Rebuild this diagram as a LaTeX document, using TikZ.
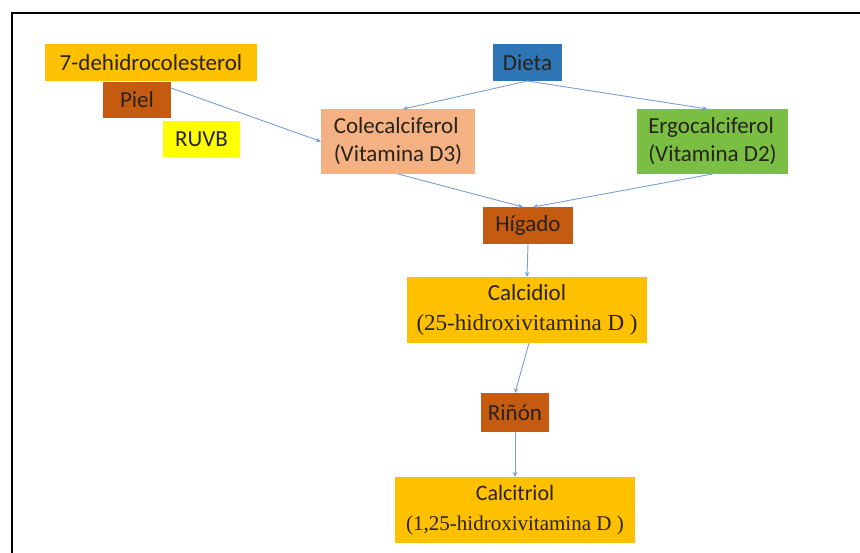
\documentclass[tikz,border=0pt]{standalone}
\usepackage{fontspec}
\setmainfont{Carlito}
\newfontfamily\serifb{Liberation Serif}
\usetikzlibrary{arrows.meta}
\definecolor{cgold}{RGB}{255,192,0}
\definecolor{cbrown}{RGB}{197,90,17}
\definecolor{cyel}{RGB}{255,255,0}
\definecolor{cpeach}{RGB}{244,177,131}
\definecolor{cblue}{RGB}{46,117,182}
\definecolor{cgreen}{RGB}{122,190,68}
\definecolor{carrow}{RGB}{120,160,215}
\definecolor{ctext}{RGB}{40,35,25}
\begin{document}
\begin{tikzpicture}[x=1pt,y=-1pt,
  boxstyle/.style={inner sep=0pt,outer sep=0pt,text=ctext,font=\fontsize{23}{28}\selectfont,align=center},
  conn/.style={draw=carrow,line width=0.9pt,-{Stealth[length=5pt,width=4.5pt]}}]
\useasboundingbox (0,0) rectangle (860,553);
\fill[white] (0,0) rectangle (860,553);
\draw[line width=2pt,black] (11.5,553) -- (11.5,13) -- (860,13);
\node[boxstyle,fill=cgold,minimum width=212pt,minimum height=37pt] (dehidro) at (151,62.5) {7-dehidrocolesterol};
\node[boxstyle,fill=cbrown,minimum width=68pt,minimum height=36pt] (piel) at (137,100) {Piel};
\node[boxstyle,fill=cyel,minimum width=77pt,minimum height=36pt] (ruvb) at (201.5,139) {RUVB};
\node[boxstyle,fill=cpeach,minimum width=154pt,minimum height=65pt,align=left] (cole) at (398,141.5) {Colecalciferol\\(Vitamina D3)};
\node[boxstyle,fill=cblue,minimum width=69pt,minimum height=37pt] (dieta) at (527.5,62.5) {Dieta};
\node[boxstyle,fill=cgreen,minimum width=151pt,minimum height=65pt,align=left] (ergo) at (712.5,141.5) {Ergocalciferol\\(Vitamina D2)};
\node[boxstyle,fill=cbrown,minimum width=90pt,minimum height=37pt] (higado) at (528,225.5) {Hígado};
\node[boxstyle,fill=cgold,minimum width=240pt,minimum height=66pt,font=\fontsize{23}{30}\selectfont] (calcidiol) at (527,310) {Calcidiol\\{\serifb (25-hidroxivitamina D )}};
\node[boxstyle,fill=cbrown,minimum width=68pt,minimum height=39pt] (rinon) at (515,412.5) {Riñón};
\node[boxstyle,fill=cgold,minimum width=240pt,minimum height=66pt,font=\fontsize{22}{30}\selectfont] (calcitriol) at (515,510) {Calcitriol\\{\serifb\fontsize{21}{30}\selectfont (1,25-hidroxivitamina D )}};
\draw[conn] ([yshift=12pt]piel.east) -- (cole.west);
\draw[conn] (dieta.south) -- ([xshift=5pt]cole.north);
\draw[conn] (dieta.south) -- ([xshift=-5pt]ergo.north);
\draw[conn] (cole.south) -- ([xshift=-5pt]higado.north);
\draw[conn] (ergo.south) -- ([xshift=5pt]higado.north);
\draw[conn] (higado.south) -- (calcidiol.north);
\draw[conn] ([xshift=2pt]calcidiol.south) -- (rinon.north);
\draw[conn] (rinon.south) -- (calcitriol.north);
\end{tikzpicture}
\end{document}
